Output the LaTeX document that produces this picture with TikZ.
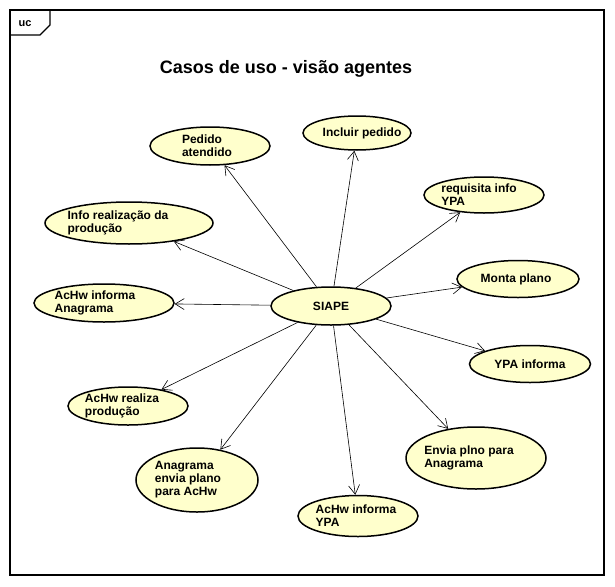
\documentclass[tikz,border=0pt]{standalone}
\usepackage{fontspec}
\setmainfont{Liberation Sans}
\usetikzlibrary{shapes.geometric,arrows.meta}
\definecolor{ucfill}{HTML}{FFFFCC}
\tikzset{
  usecase/.style={ellipse, draw=black, line width=1.5pt, fill=ucfill, inner sep=0pt},
  lbl/.style={font=\bfseries\fontsize{12}{13}\selectfont, align=left, inner sep=0pt},
  assoc/.style={draw=black, line width=0.6pt, -{Straight Barb[length=9pt,width=11pt,line width=0.6pt]}},
  frame/.style={draw=black, line width=1.3pt}
}
\begin{document}
\begin{tikzpicture}[x=1pt,y=-1pt]
\useasboundingbox (0,0) rectangle (615,586);
\fill[white] (0,0) rectangle (615,586);
% frame
\draw[frame] (10,10) rectangle (604,575);
\draw[frame] (10,35) -- (40,35) -- (50,25) -- (50,10);
\node[font=\bfseries\fontsize{11}{12}\selectfont, inner sep=0pt] (uc) at (25,24) {uc};
% title
\node[font=\bfseries\fontsize{18}{20}\selectfont, inner sep=0pt, anchor=base] (title) at (286,73) {Casos de uso - visão agentes};
% use cases
\node[usecase, minimum width=120pt, minimum height=38pt] (siape) at (331,306) {};
\node[usecase, minimum width=120pt, minimum height=38pt] (ped) at (210,146) {};
\node[usecase, minimum width=108pt, minimum height=34pt] (inc) at (357,133) {};
\node[usecase, minimum width=120pt, minimum height=36pt] (req) at (484,195) {};
\node[usecase, minimum width=122pt, minimum height=37pt] (mon) at (518,279) {};
\node[usecase, minimum width=121pt, minimum height=37pt] (ypa) at (530,364) {};
\node[usecase, minimum width=140pt, minimum height=62pt] (env) at (476,458) {};
\node[usecase, minimum width=120pt, minimum height=41pt] (aypa) at (358,516) {};
\node[usecase, minimum width=122pt, minimum height=64pt] (ana) at (197,480) {};
\node[usecase, minimum width=120pt, minimum height=38pt] (real) at (128,406) {};
\node[usecase, minimum width=140pt, minimum height=38pt] (aana) at (104,303) {};
\node[usecase, minimum width=168pt, minimum height=42pt] (info) at (129,223) {};
% texts
\node[lbl] (tsiape) at (siape.center) {SIAPE};
\node[lbl, xshift=-3pt] (tped) at (ped.center) {Pedido\\atendido};
\node[lbl, xshift=5pt] (tinc) at (inc.center) {Incluir pedido};
\node[lbl, xshift=-5pt] (treq) at (req.center) {requisita info\\YPA};
\node[lbl, xshift=-2pt] (tmon) at (mon.center) {Monta plano};
\node[lbl] (typa) at (ypa.center) {YPA informa};
\node[lbl, xshift=-7pt] (tenv) at (env.center) {Envia plno para\\Anagrama};
\node[lbl, xshift=-2pt] (taypa) at (aypa.center) {AcHw informa\\YPA};
\node[lbl, xshift=-9pt] (tana) at (ana.center) {Anagrama\\envia plano\\para AcHw};
\node[lbl, xshift=-6pt] (treal) at (real.center) {AcHw realiza\\produção};
\node[lbl, xshift=-9pt] (taana) at (aana.center) {AcHw informa\\Anagrama};
\node[lbl, xshift=-11pt] (tinfo) at (info.center) {Info realização da\\produção};
% associations
\foreach \t in {ped,inc,req,mon,ypa,env,aypa,ana,real,aana,info}
  \draw[assoc] (siape) -- (\t);
\end{tikzpicture}
\end{document}
